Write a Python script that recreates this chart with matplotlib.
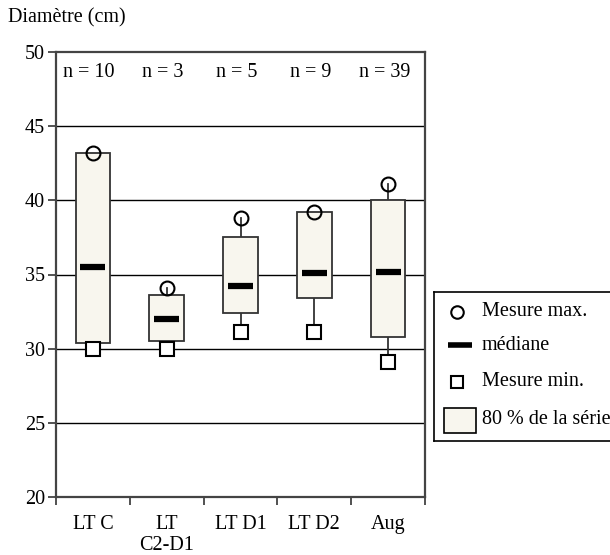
import matplotlib
matplotlib.use('Agg')
import matplotlib.pyplot as plt
from matplotlib.patches import Rectangle

# Données
categories = ['LT C', 'LT\nC2-D1', 'LT D1', 'LT D2', 'Aug']
effectifs = [10, 3, 5, 9, 39]
mesure_max = [43.2, 34.1, 38.8, 39.2, 41.1]
mesure_min = [30.0, 30.0, 31.1, 31.1, 29.1]
p_haut = [43.2, 33.6, 37.5, 39.2, 40.0]
p_bas = [30.4, 30.5, 32.4, 33.4, 30.8]
mediane = [35.5, 32.0, 34.2, 35.1, 35.2]

plt.rcParams['font.family'] = ['Liberation Serif', 'DejaVu Serif']
plt.rcParams['font.size'] = 14.5

W, H = 610, 555
fig = plt.figure(figsize=(W / 100, H / 100), dpi=100)
ax = fig.add_axes([56 / W, (H - 497) / H, (425 - 56) / W, (497 - 52) / H])

bord = '#333333'
remplissage = '#f8f6ee'
largeur = 0.47

# Grille horizontale
for y in [25, 30, 35, 40, 45]:
    ax.axhline(y, color='black', lw=1.0, zorder=1)

for i in range(len(categories)):
    # moustaches
    ax.plot([i, i], [p_haut[i], mesure_max[i]], color=bord, lw=1.3, zorder=2)
    ax.plot([i, i], [mesure_min[i], p_bas[i]], color=bord, lw=1.3, zorder=2)
    # boite 80 %
    ax.add_patch(Rectangle((i - largeur / 2, p_bas[i]), largeur, p_haut[i] - p_bas[i],
                           facecolor=remplissage, edgecolor=bord, lw=1.3, zorder=3))
    # mediane
    ax.plot([i - 0.17, i + 0.17], [mediane[i], mediane[i]], color='black', lw=4.5,
            solid_capstyle='butt', zorder=4)
    # max / min
    ax.plot(i, mesure_max[i], marker='o', ms=10, mfc='none', mec='black', mew=1.5, zorder=5)
    ax.plot(i, mesure_min[i], marker='s', ms=10, mfc='white', mec='black', mew=1.5, zorder=5)
    ax.text(i - 0.05, 48.6, f'n = {effectifs[i]}', ha='center', va='center')

ax.set_xlim(-0.5, len(categories) - 0.5)
ax.set_ylim(20, 50)
ax.set_yticks([20, 25, 30, 35, 40, 45, 50])
ax.set_xticks([k - 0.5 for k in range(len(categories) + 1)])
ax.set_xticklabels([])
ax.set_xticks(range(len(categories)), minor=True)
ax.set_xticklabels(categories, minor=True, linespacing=1.15)
ax.tick_params(axis='x', which='minor', length=0, pad=13)
ax.tick_params(axis='both', which='major', direction='out', length=6, width=1.2, color=bord)
ax.tick_params(axis='y', pad=2)
for s in ax.spines.values():
    s.set_color('#444444')
    s.set_linewidth(1.6)
for lab in ax.get_xticklabels(minor=True):
    lab.set_verticalalignment('top')

fig.text(8 / W, (H - 18) / H, 'Diamètre (cm)', ha='left', va='center')

# Légende dessinée à la main (elle dépasse du cadre à droite)
lg = fig.add_axes([434 / W, (H - 441) / H, 200 / W, 149 / H])
lg.set_xlim(0, 200)
lg.set_ylim(149, 0)
lg.set_xticks([])
lg.set_yticks([])
for s in lg.spines.values():
    s.set_color('black')
    s.set_linewidth(1.2)
lg.plot(23, 20, marker='o', ms=9, mfc='none', mec='black', mew=1.5)
lg.plot([14, 38], [53, 53], color='black', lw=4, solid_capstyle='butt')
lg.plot(23, 90, marker='s', ms=9, mfc='none', mec='black', mew=1.5)
lg.add_patch(Rectangle((10, 116), 32, 25, facecolor=remplissage, edgecolor='black', lw=1.2))
for y, t in [(20, 'Mesure max.'), (53, 'médiane'), (90, 'Mesure min.'), (128, '80 % de la série')]:
    lg.text(48, y, t, ha='left', va='center')

fig.savefig('out.png', dpi=100)
